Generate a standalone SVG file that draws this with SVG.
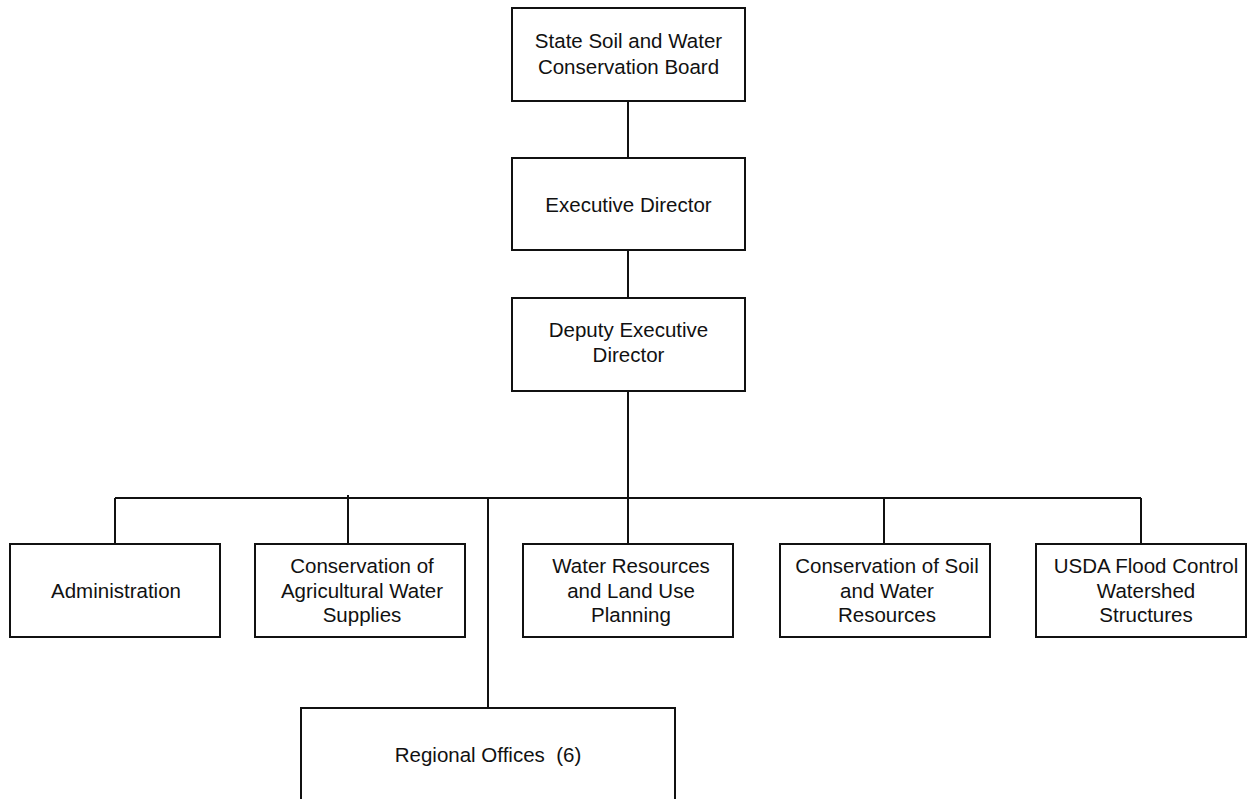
<svg xmlns="http://www.w3.org/2000/svg" width="1249" height="799" viewBox="0 0 1249 799">
<style>
.box{fill:#fff;stroke:#111;stroke-width:2}
.ln{fill:none;stroke:#111;stroke-width:2}
text{font-family:"Liberation Sans",Arial,sans-serif;font-size:20.5px;fill:#111;text-anchor:middle}
</style>
<rect width="1249" height="799" fill="#fff"/>
<g id="connectors">
<path class="ln" d="M628,101V158M628,250V298M628,391V498M115,498H1141M115,498V544M348,495V544M628,498V544M884,498V544M1141,498V544M488,498V708"/>
</g>
<g id="board"><rect class="box" x="512" y="8" width="233" height="93"/><text x="628.5" y="48">State Soil and Water</text><text x="628.5" y="74">Conservation Board</text></g>
<g id="exec"><rect class="box" x="512" y="158" width="233" height="92"/><text x="628.5" y="212">Executive Director</text></g>
<g id="deputy"><rect class="box" x="512" y="298" width="233" height="93"/><text x="628.5" y="337">Deputy Executive</text><text x="628.5" y="362">Director</text></g>
<g id="admin"><rect class="box" x="10" y="544" width="210" height="93"/><text x="116" y="598">Administration</text></g>
<g id="agwater"><rect class="box" x="255" y="544" width="210" height="93"/><text x="362" y="573">Conservation of</text><text x="362" y="598">Agricultural Water</text><text x="362" y="622">Supplies</text></g>
<g id="waterres"><rect class="box" x="523" y="544" width="210" height="93"/><text x="631" y="573">Water Resources</text><text x="631" y="598">and Land Use</text><text x="631" y="622">Planning</text></g>
<g id="soilwater"><rect class="box" x="780" y="544" width="210" height="93"/><text x="887" y="573">Conservation of Soil</text><text x="887" y="598">and Water</text><text x="887" y="622">Resources</text></g>
<g id="usda"><rect class="box" x="1036" y="544" width="210" height="93"/><text x="1146" y="573">USDA Flood Control</text><text x="1146" y="598">Watershed</text><text x="1146" y="622">Structures</text></g>
<g id="regional"><rect class="box" x="301" y="708" width="374" height="110"/><text x="488" y="762" xml:space="preserve">Regional Offices  (6)</text></g>
</svg>
